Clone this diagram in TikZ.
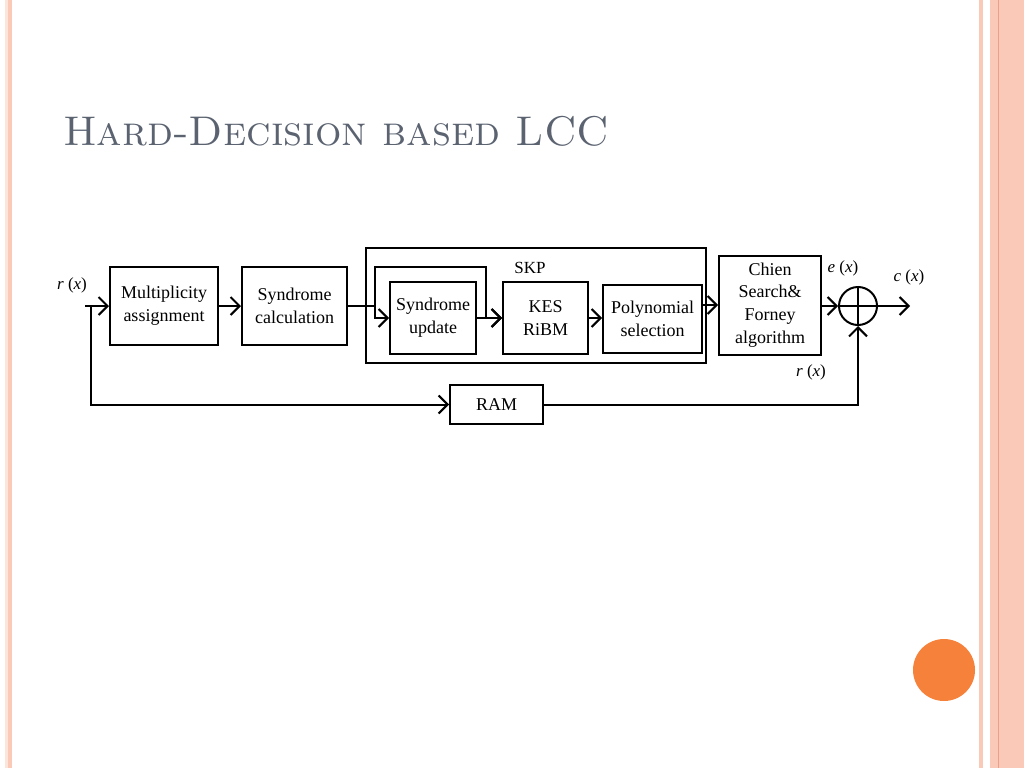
\documentclass[tikz,border=0pt]{standalone}
\usepackage{fontspec}
\newfontfamily\diafont{Liberation Serif}
\usetikzlibrary{arrows.meta}
\definecolor{titlegray}{HTML}{5B6371}
\definecolor{stripe}{HTML}{FBC9B8}
\definecolor{stripelight}{HTML}{FCE6DC}
\definecolor{stripedark}{HTML}{E9A28A}
\definecolor{dot}{HTML}{F5813A}
\begin{document}
\begin{tikzpicture}[x=1pt,y=-1pt,
    block/.style={draw,line width=2pt,align=center,inner sep=0pt,
      font=\diafont\fontsize{18}{22.7}\selectfont},
    lbl/.style={font=\diafont\fontsize{17}{20}\selectfont,inner sep=0pt},
    arr/.style={line width=2pt,-{Straight Barb[length=9pt,width=18pt,line width=2pt]}},
    wire/.style={line width=2pt}]

    \useasboundingbox (0,0) rectangle (1024,768);

    % slide decoration
    \fill[stripelight] (5,0) rectangle (8,768);
    \fill[stripe] (8,0) rectangle (12,768);
    \fill[stripe] (979,0) rectangle (983,768);
    \fill[stripe] (990,0) rectangle (1024,768);
    \draw[stripedark,line width=1pt] (998,0) -- (998,768);
    \fill[dot] (944,670) ellipse (31 and 31);

    \node[anchor=base west,text=titlegray,font=\fontsize{41.5}{46}\selectfont\scshape,inner sep=0pt]
      (title) at (63,145) {Hard-Decision based LCC};

    % blocks
    \node[block,minimum width=108,minimum height=78] (mult) at (164,306) {Multiplicity\\assignment};
    \node[block,minimum width=105,minimum height=78] (synd) at (294.5,306) {Syndrome\\calculation};
    \node[draw,line width=2pt,minimum width=340,minimum height=115] (skp) at (536,305.5) {};
    \node[block,minimum width=86,minimum height=72] (upd) at (433,318) {Syndrome\\update};
    \node[block,minimum width=85,minimum height=72] (kes) at (545.5,318) {KES\\RiBM};
    \node[block,minimum width=99,minimum height=68] (poly) at (652.5,319) {Polynomial\\selection};
    \node[block,minimum width=102,minimum height=99] (chien) at (770,305) {Chien\\Search\&\\Forney\\algorithm};
    \node[draw,circle,line width=2pt,minimum size=38,inner sep=0pt] (sum) at (858,306) {};
    \node[block,minimum width=93,minimum height=39] (ram) at (496.5,404.5) {RAM};

    \node[lbl] (skplbl) at (530,268) {SKP};
    \node[lbl] (rin) at (72,285) {\textit{r} (\textit{x})};
    \node[lbl] (ex) at (843,268) {\textit{e} (\textit{x})};
    \node[lbl] (cx) at (909,277) {\textit{c} (\textit{x})};
    \node[lbl] (rx) at (811,372) {\textit{r} (\textit{x})};

    \coordinate (in) at (85,306);
    \coordinate (tap) at (91,306);
    \coordinate (split) at (375,306);
    \coordinate (bypass) at (486,267);
    \coordinate (out) at (910,306);

    % connectors
    \draw[arr] (in) -- (mult);
    \draw[arr] (mult) -- (synd);
    \draw[wire] (synd.east) -- (split);
    \draw[arr] (split) |- (upd.west);
    \draw[arr] (split) |- (bypass) |- (kes.west);
    \draw[arr] (upd) -- (kes);
    \draw[arr] (kes.east) -- (kes.east -| poly.west);
    \draw[arr] (poly.east |- chien.west) -- (chien.west);
    \draw[arr] (chien.east |- sum.west) -- (sum.west);
    \draw[arr] (sum.east) -- (out);
    \draw[wire] (sum.north) -- (sum.south);
    \draw[wire] (sum.west) -- (sum.east);
    \draw[arr] (tap) |- (ram.west);
    \draw[arr] (ram.east) -| (sum.south);

\end{tikzpicture}
\end{document}
